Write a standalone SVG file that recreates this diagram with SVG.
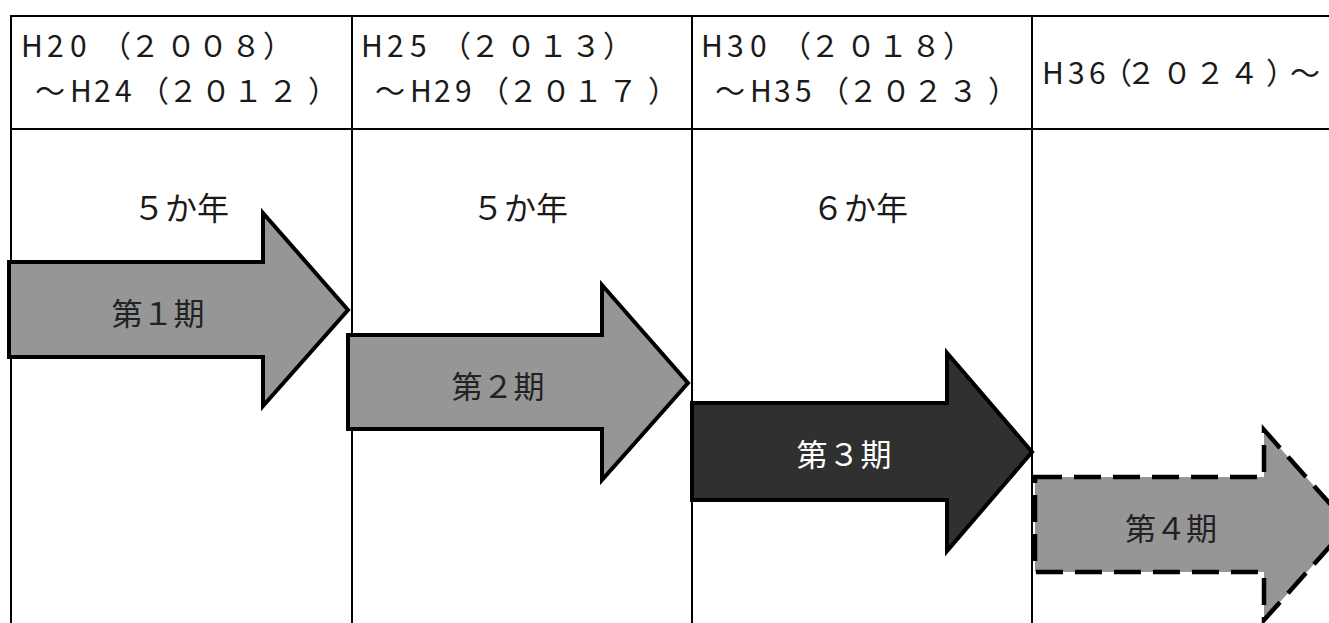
<svg xmlns="http://www.w3.org/2000/svg" width="1329" height="623" viewBox="0 0 1329 623">
  <style>
    .grid { stroke: #000; stroke-width: 2; fill: none; }
    .hdr { font-family: "Noto Sans CJK JP", "Noto Sans", sans-serif; font-size: 30px; fill: #1a1a1a; }
    .yrs { font-family: "Noto Sans CJK JP", "Noto Sans", sans-serif; font-size: 32px; fill: #1a1a1a; text-anchor: middle; }
    .lbl { font-family: "Noto Sans CJK JP", "Noto Sans", sans-serif; font-size: 31px; fill: #222; text-anchor: middle; }
    .arrow { stroke: #000; stroke-width: 4; stroke-linejoin: miter; }
    .gray { fill: #969696; }
    .dark { fill: #303030; }
    .dash { stroke-width: 4.5; stroke-dasharray: 27 12; }
  </style>
  <rect width="1329" height="623" fill="#fff"/>
  <g id="table">
    <line class="grid" x1="10" y1="16" x2="1329" y2="16"/>
    <line class="grid" x1="10" y1="129" x2="1329" y2="129"/>
    <line class="grid" x1="11" y1="15" x2="11" y2="623"/>
    <line class="grid" x1="352" y1="15" x2="352" y2="623"/>
    <line class="grid" x1="692" y1="15" x2="692" y2="623"/>
    <line class="grid" x1="1032" y1="15" x2="1032" y2="623"/>
  </g>
  <g id="header-1">
    <text class="hdr" x="21 47 70 101 130 166 198 231 263" y="57">H20（２００８）</text>
    <text class="hdr" x="35 70 94 115 139 168 201 233 268 308" y="102">～H24（２０１２）</text>
  </g>
  <g id="header-2">
    <text class="hdr" x="361 387 410 441 470 506 538 571 603" y="57">H25（２０１３）</text>
    <text class="hdr" x="375 410 434 455 479 508 541 573 608 648" y="102">～H29（２０１７）</text>
  </g>
  <g id="header-3">
    <text class="hdr" x="701 727 750 781 810 846 878 911 943" y="57">H30（２０１８）</text>
    <text class="hdr" x="715 750 774 795 819 848 881 913 948 988" y="102">～H35（２０２３）</text>
  </g>
  <g id="header-4">
    <text class="hdr" x="1042 1068 1089 1102 1126 1162 1195 1229 1266 1290" y="84">H36（２０２４）～</text>
  </g>
  <g id="duration-1"><text class="yrs" x="181" y="220">５か年</text></g>
  <g id="duration-2"><text class="yrs" x="520" y="220">５か年</text></g>
  <g id="duration-3"><text class="yrs" x="860" y="220">６か年</text></g>
  <g id="phase-1">
    <polygon class="arrow gray" points="9,262 263,262 263,213 348,310 263,406 263,357 9,357"/>
    <text class="lbl" x="158" y="325" textLength="93" lengthAdjust="spacing">第１期</text>
  </g>
  <g id="phase-2">
    <polygon class="arrow gray" points="348,335 602,335 602,285 688,383 602,480 602,429 348,429"/>
    <text class="lbl" x="498" y="398" textLength="93" lengthAdjust="spacing">第２期</text>
  </g>
  <g id="phase-3">
    <polygon class="arrow dark" points="692,403 947,403 947,353 1032,452 947,551 947,500 692,500"/>
    <text class="lbl" x="844" y="466" textLength="95" lengthAdjust="spacing" style="fill:#fff">第３期</text>
  </g>
  <g id="phase-4">
    <polygon class="arrow gray dash" points="1035,477 1264,477 1264,430 1349,525 1264,620 1264,572 1035,572"/>
    <text class="lbl" x="1171" y="540" textLength="92" lengthAdjust="spacing">第４期</text>
  </g>
</svg>
